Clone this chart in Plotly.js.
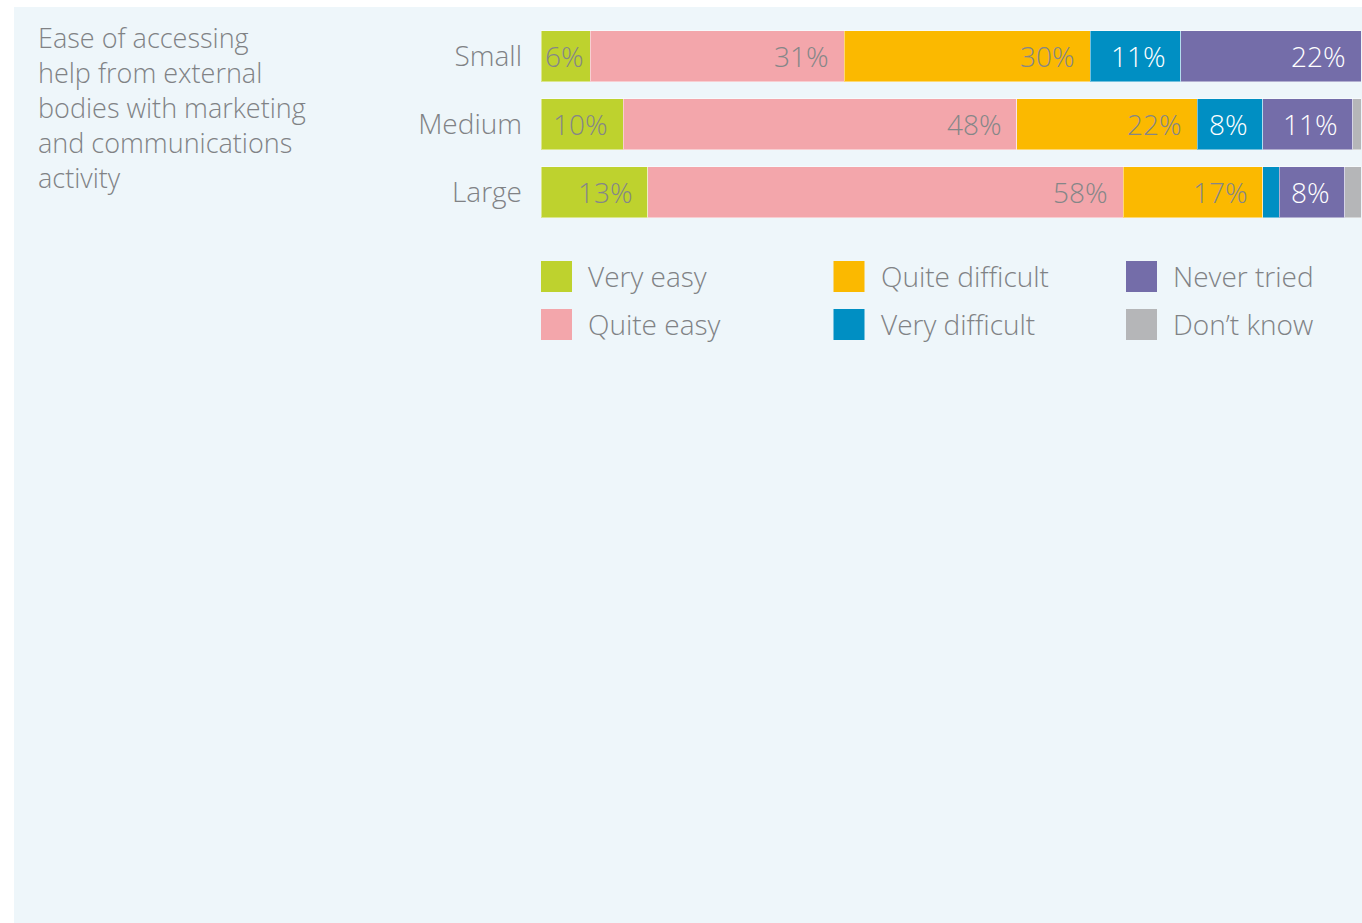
<!DOCTYPE html>
<html>
<head>
<meta charset="utf-8">
<script src="https://cdn.plot.ly/plotly-3.0.1.min.js"></script>
<style>
  html, body { margin: 0; padding: 0; background: #ffffff; width: 1362px; height: 923px; overflow: hidden; }
  #bg { position: absolute; left: 14px; top: 7px; right: 0; bottom: 0; background: #EEF6FA; }
  #chart { position: absolute; left: 0; top: 0; width: 1362px; height: 923px; }
</style>
</head>
<body>
<div id="bg"></div>
<div id="chart"></div>
<script>
// ---- Data ----
const titleLines = ['Ease of accessing', 'help from external', 'bodies with marketing', 'and communications', 'activity'];
const categories = ['Small', 'Medium', 'Large'];
const seriesNames = ['Very easy', 'Quite easy', 'Quite difficult', 'Very difficult', 'Never tried', 'Don\u2019t know'];
const veryEasy = [6, 10, 13];
const quiteEasy = [31, 48, 58];
const quiteDifficult = [30, 22, 17];
const veryDifficult = [11, 8, 2];
const neverTried = [22, 11, 8];
const dontKnow = [0, 1, 2];

// ---- Styles ----
const seriesValues = [veryEasy, quiteEasy, quiteDifficult, veryDifficult, neverTried, dontKnow];
const colors = ['#BED22E', '#F3A6AB', '#FBB900', '#008FC3', '#746DA9', '#B5B6B8'];
const labelColors = ['#858688', '#858688', '#858688', '#ffffff', '#ffffff', '#858688'];
const grey = '#808285';
const FONT = '"Open Sans", "DejaVu Sans", sans-serif';
const FS = 28;

const W = 1362, H = 923;
const M = { l: 541, r: 1, t: 22, b: 697 };
const PW = W - M.l - M.r, PH = H - M.t - M.b;
const px2x = px => (px - M.l) / PW;
const py2y = py => (M.t + PH - py) / PH;

const traces = seriesNames.map((name, i) => ({
  type: 'bar',
  orientation: 'h',
  name: name,
  y: categories,
  x: seriesValues[i],
  marker: { color: colors[i], line: { color: 'rgba(255,255,255,0.45)', width: 1 } },
  hoverinfo: 'none',
  showlegend: false
}));

const annotations = [];
// title
annotations.push({
  xref: 'paper', yref: 'paper', x: px2x(36), y: py2y(108),
  xanchor: 'left', yanchor: 'middle', align: 'left', showarrow: false,
  text: titleLines.join('<br>'),
  font: { family: FONT, size: 27, color: grey, weight: 300 }
});
// bar value labels
categories.forEach((cat, j) => {
  let cum = 0;
  seriesValues.forEach((vals, i) => {
    cum += vals[j];
    if (vals[j] >= 5) {
      annotations.push({
        xref: 'x', yref: 'y', x: cum, y: cat,
        xanchor: 'right', yanchor: 'middle', xshift: vals[j] < 8 ? -4 : -13,
        showarrow: false, text: vals[j] + '%',
        font: { family: FONT, size: FS, color: labelColors[i], weight: 300 }
      });
    }
  });
});
// legend
const shapes = [];
seriesNames.forEach((name, i) => {
  const col = Math.floor(i / 2), row = i % 2;
  const left = 541 + col * 292.5;
  const top = 261 + row * 48;
  shapes.push({
    type: 'rect', xref: 'paper', yref: 'paper',
    x0: px2x(left), x1: px2x(left + 31), y0: py2y(top), y1: py2y(top + 31),
    fillcolor: colors[i], line: { width: 0 }
  });
  annotations.push({
    xref: 'paper', yref: 'paper', x: px2x(left + 45), y: py2y(top + 15),
    xanchor: 'left', yanchor: 'middle', showarrow: false, text: name,
    font: { family: FONT, size: FS, color: grey, weight: 300 }
  });
});

const layout = {
  width: W, height: H,
  margin: M,
  paper_bgcolor: 'rgba(0,0,0,0)',
  plot_bgcolor: 'rgba(0,0,0,0)',
  barmode: 'stack',
  bargap: 0.25,
  showlegend: false,
  xaxis: { range: [0, 100], visible: false, fixedrange: true },
  yaxis: {
    type: 'category', autorange: 'reversed', ticks: '', showgrid: false, zeroline: false, showline: false,
    ticklabelstandoff: 18,
    tickfont: { family: FONT, size: FS, color: grey, weight: 300 }
  },
  annotations: annotations,
  shapes: shapes,
  font: { family: FONT, color: grey }
};

Plotly.newPlot('chart', traces, layout, { staticPlot: true, displayModeBar: false });
</script>
</body>
</html>
